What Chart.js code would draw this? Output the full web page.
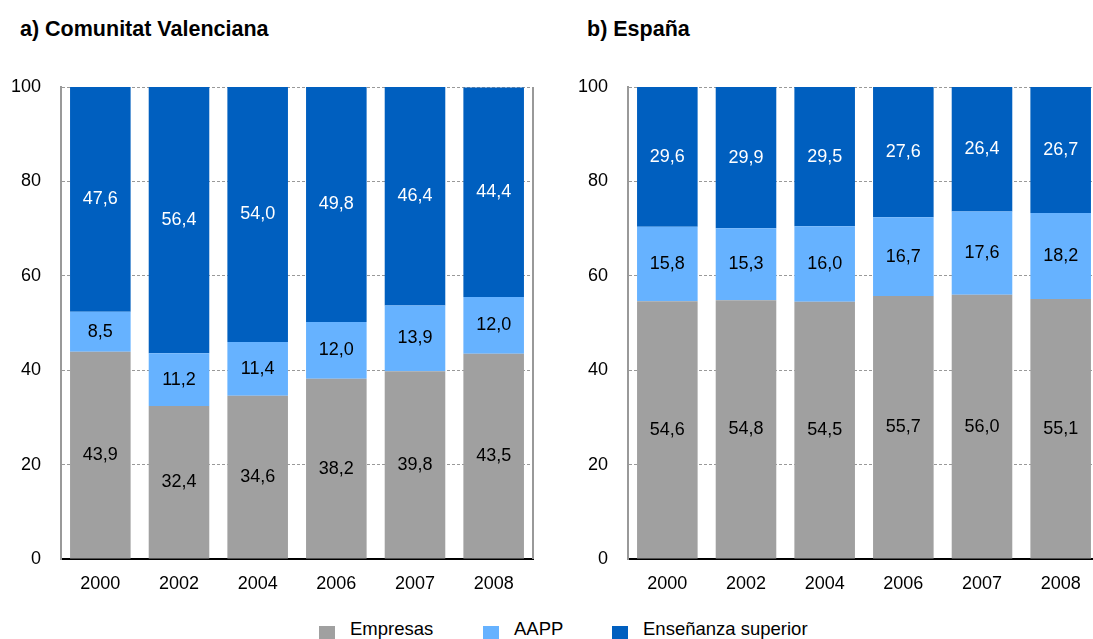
<!DOCTYPE html>
<html>
<head>
<meta charset="utf-8">
<script src="https://cdn.jsdelivr.net/npm/chart.js@4.4.0/dist/chart.umd.min.js"></script>
<style>
  html, body { margin: 0; padding: 0; width: 1093px; height: 639px; overflow: hidden; background: #fff; font-family: "Liberation Sans", Arial, sans-serif; }
  .title { position: absolute; top: 17px; font-size: 21.5px; font-weight: bold; color: #000; }
  canvas { position: absolute; top: 0; }
  .item { position: absolute; top: 618px; font-size: 18.5px; color: #000; white-space: nowrap; }
  .box { position: absolute; top: 626px; width: 16px; height: 16px; }
</style>
</head>
<body>
<div class="title" style="left:20px">a) Comunitat Valenciana</div>
<div class="title" style="left:587px">b) España</div>
<canvas id="chartCV" width="545" height="590" style="left:0"></canvas>
<canvas id="chartES" width="545" height="590" style="left:567px"></canvas>
<div id="legend"></div>
<script>
// categories
const years = ["2000", "2002", "2004", "2006", "2007", "2008"];
const seriesNames = ["Empresas", "AAPP", "Enseñanza superior"];
const seriesColors = ["#A0A0A0", "#66B2FF", "#005FBF"];
const yTicks = [0, 20, 40, 60, 80, 100];

// a) Comunitat Valenciana
const cvEmpresas = [43.9, 32.4, 34.6, 38.2, 39.8, 43.5];
const cvAAPP = [8.5, 11.2, 11.4, 12.0, 13.9, 12.0];
const cvEnsenanza = [47.6, 56.4, 54.0, 49.8, 46.4, 44.4];

// b) España
const esEmpresas = [54.6, 54.8, 54.5, 55.7, 56.0, 55.1];
const esAAPP = [15.8, 15.3, 16.0, 16.7, 17.6, 18.2];
const esEnsenanza = [29.6, 29.9, 29.5, 27.6, 26.4, 26.7];

const fontFamily = "'Liberation Sans', Arial, sans-serif";

// value labels inside the bars
const barLabels = {
  id: "barLabels",
  afterDatasetsDraw(chart) {
    const ctx = chart.ctx;
    ctx.save();
    ctx.font = "18px " + fontFamily;
    ctx.textAlign = "center";
    ctx.textBaseline = "middle";
    chart.data.datasets.forEach((ds, i) => {
      const meta = chart.getDatasetMeta(i);
      meta.data.forEach((bar, j) => {
        const txt = ds.data[j].toFixed(1).replace(".", ",");
        ctx.fillStyle = i == 2 ? "#fff" : "#000";
        ctx.fillText(txt, bar.x, (bar.y + bar.base) / 2);
      });
    });
    ctx.restore();
  }
};

// grey right border of the plot area
const rightBorder = {
  id: "rightBorder",
  beforeDatasetsDraw(chart) {
    const a = chart.chartArea;
    const ctx = chart.ctx;
    ctx.save();
    ctx.strokeStyle = "#999";
    ctx.lineWidth = 2;
    ctx.beginPath();
    ctx.moveTo(a.right, a.top);
    ctx.lineTo(a.right, a.bottom);
    ctx.stroke();
    ctx.restore();
  }
};

function makeChart(id, values) {
  const ctx = document.getElementById(id).getContext("2d");
  const data = {
    labels: years,
    datasets: values.map((v, i) => ({
      label: seriesNames[i],
      data: v,
      backgroundColor: seriesColors[i],
      borderWidth: 0,
      barPercentage: 0.77,
      categoryPercentage: 1,
    })),
  };
  const config = {
    type: "bar",
    data: data,
    options: {
      responsive: false,
      animation: false,
      layout: { padding: { top: 87, right: 12, left: 0, bottom: 0 } },
      plugins: { legend: { display: false }, tooltip: { enabled: false } },
      scales: {
        x: {
          stacked: true,
          grid: { display: false, drawTicks: false },
          border: { color: "#000", width: 2 },
          ticks: { color: "#000", padding: 14, font: { family: fontFamily, size: 18 } },
          afterFit: (s) => { s.height = 31; },
        },
        y: {
          stacked: true,
          min: 0,
          max: 100,
          afterBuildTicks: (s) => { s.ticks = yTicks.map((v) => ({ value: v })); },
          grid: { color: "#999", drawTicks: false },
          border: { color: "#999", width: 2, dash: [3, 2] },
          ticks: { color: "#000", padding: 20, font: { family: fontFamily, size: 18 } },
          afterFit: (s) => { s.width = 61; },
        },
      },
    },
    plugins: [rightBorder, barLabels],
  };
  return new Chart(ctx, config);
}

makeChart("chartCV", [cvEmpresas, cvAAPP, cvEnsenanza]);
makeChart("chartES", [esEmpresas, esAAPP, esEnsenanza]);

// legend
const legend = document.getElementById("legend");
const boxLeft = [319, 483, 612];
seriesNames.forEach((name, i) => {
  const box = document.createElement("span");
  box.className = "box";
  box.style.left = boxLeft[i] + "px";
  box.style.background = seriesColors[i];
  legend.appendChild(box);
  const item = document.createElement("span");
  item.className = "item";
  item.style.left = (boxLeft[i] + 31) + "px";
  item.textContent = name;
  legend.appendChild(item);
});
</script>
</body>
</html>
